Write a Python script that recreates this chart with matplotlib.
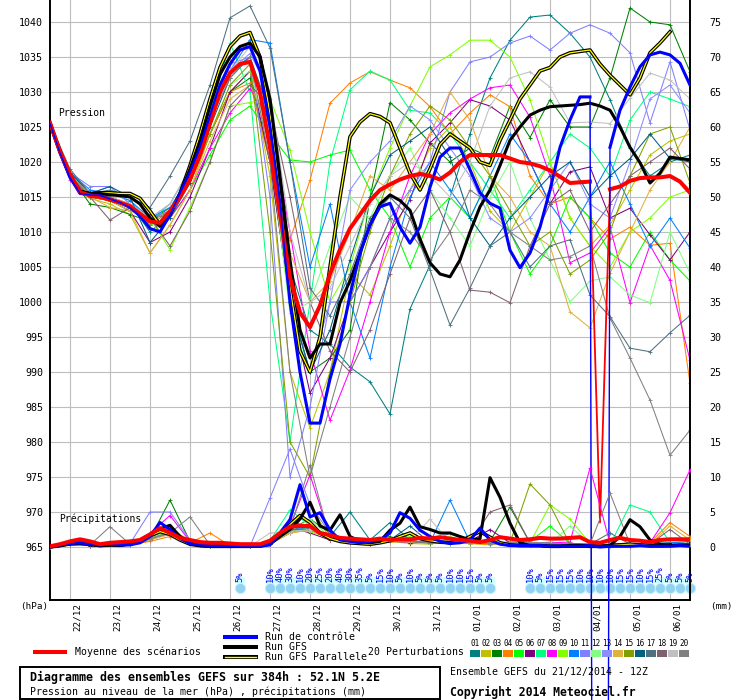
import numpy as np
import matplotlib
matplotlib.use("Agg")
import matplotlib.pyplot as plt
import matplotlib.transforms as mtransforms
from matplotlib.lines import Line2D
from matplotlib.patches import Rectangle

plt.rcParams['font.family'] = ['DejaVu Sans Mono']

# time axis (hours from 21/12 12Z)
hours6 = np.arange(0, 385, 6)
hours12 = np.arange(0, 385, 12)

day_hours = np.arange(12, 373, 24)
day_labels = ['22/12', '23/12', '24/12', '25/12', '26/12', '27/12', '28/12', '29/12',
              '30/12', '31/12', '01/01', '02/01', '03/01', '04/01', '05/01', '06/01']

# ---- pressure (hPa), 6-hourly ----
mean_p = [1025.6, 1021.5, 1018.3, 1015.7, 1015.2, 1015.0, 1014.6, 1014.2, 1013.7, 1012.6,
          1011.5, 1011.3, 1013.0, 1015.0, 1017.5, 1021.0, 1025.5, 1030.0, 1032.7, 1034.0,
          1034.3, 1030.0, 1022.0, 1012.5, 1003.5, 998.5, 996.4, 999.5, 1004.0, 1007.5,
          1010.5, 1012.5, 1014.5, 1016.0, 1016.8, 1017.5, 1018.0, 1018.3, 1018.0, 1017.5,
          1018.5, 1020.0, 1021.0, 1021.0, 1021.0, 1021.0, 1020.5, 1020.0, 1019.8, 1019.4,
          1018.8, 1017.9, 1017.0, 1017.1, 1017.2, 968.5, 1016.1, 1016.5, 1017.3, 1017.7,
          1017.8, 1017.8, 1018.0, 1017.2, 1015.6]
ctrl_p = [1025.5, 1021.3, 1017.8, 1015.5, 1015.3, 1015.2, 1014.7, 1014.2, 1013.5, 1012.3,
          1010.5, 1010.0, 1012.5, 1015.5, 1018.5, 1022.0, 1026.5, 1031.0, 1034.0, 1036.0,
          1036.5, 1033.0, 1025.0, 1014.0, 1000.0, 990.0, 982.7, 982.7, 989.0, 994.0,
          1001.0, 1007.0, 1011.0, 1013.6, 1014.1, 1010.7, 1008.4, 1010.7, 1016.4, 1020.7,
          1022.0, 1022.0, 1018.9, 1015.6, 1014.1, 1013.4, 1007.4, 1004.9, 1007.0, 1010.7,
          1016.0, 1022.1, 1026.0, 1029.3, 1029.3, 520.0, 1022.1, 1027.4, 1030.7, 1033.6,
          1035.3, 1035.7, 1035.3, 1034.1, 1031.0]
gfs_p = [1025.5, 1021.5, 1018.0, 1015.8, 1015.5, 1015.5, 1015.3, 1015.2, 1015.0, 1014.0,
         1012.0, 1010.8, 1012.5, 1015.5, 1019.0, 1023.0, 1028.0, 1032.5, 1035.0, 1036.5,
         1037.0, 1035.0, 1029.0, 1018.0, 1006.0, 996.0, 992.0, 994.0, 994.0, 999.9,
         1003.0, 1007.0, 1011.0, 1014.0, 1015.3, 1014.5, 1013.1, 1009.0, 1005.6, 1004.0,
         1003.6, 1006.0, 1010.0, 1013.6, 1016.0, 1019.5, 1023.1, 1025.0, 1026.7, 1027.4,
         1027.9, 1028.0, 1028.1, 1028.2, 1028.4, 1028.0, 1027.4, 1025.0, 1022.1, 1019.9,
         1017.0, 1018.4, 1020.7, 1020.5, 1020.3]
para_p = [1025.5, 1021.5, 1018.0, 1015.8, 1015.5, 1015.6, 1015.6, 1015.5, 1015.5, 1014.8,
          1013.0, 1011.0, 1012.5, 1015.5, 1019.5, 1024.0, 1029.0, 1033.5, 1036.5, 1038.0,
          1038.5, 1035.0, 1027.0, 1015.0, 1002.0, 993.0, 990.0, 995.0, 1005.0, 1015.0,
          1023.6, 1025.7, 1026.9, 1026.5, 1025.6, 1022.0, 1018.4, 1016.0, 1019.0, 1022.5,
          1024.0, 1023.0, 1022.0, 1020.0, 1019.5, 1023.1, 1026.0, 1029.0, 1031.0, 1033.0,
          1033.5, 1035.0, 1035.6, 1035.8, 1036.0, 1034.0, 1032.4, 1031.0, 1029.6, 1032.0,
          1035.6, 1037.0, 1038.6, np.nan, np.nan]

# ---- precipitation (mm), 6-hourly ----
mean_r = [0.1, 0.4, 0.8, 1.1, 0.8, 0.4, 0.6, 0.7, 0.8, 1.0,
          1.8, 2.7, 2.0, 1.3, 1.0, 0.7, 0.6, 0.6, 0.5, 0.4,
          0.4, 0.4, 0.9, 2.0, 2.9, 3.0, 3.0, 2.0, 1.7, 1.3,
          1.2, 1.1, 1.0, 1.2, 1.0, 1.1, 1.1, 1.3, 1.2, 1.4,
          1.2, 1.0, 0.9, 0.7, 1.0, 1.4, 1.2, 1.0, 1.1, 1.3,
          1.2, 1.2, 1.3, 1.4, 0.7, 0.6, 1.0, 1.3, 1.0, 0.9,
          0.7, 1.0, 1.1, 1.1, 1.1]
ctrl_r = [0.0, 0.3, 0.5, 0.6, 0.4, 0.3, 0.4, 0.3, 0.3, 0.6,
          1.5, 3.5, 2.5, 1.2, 0.5, 0.3, 0.2, 0.2, 0.2, 0.1,
          0.1, 0.1, 0.3, 2.0, 3.9, 8.9, 4.3, 4.9, 2.4, 1.0,
          0.8, 0.6, 0.8, 1.0, 2.0, 4.9, 4.1, 2.4, 1.5, 0.8,
          0.5, 0.6, 1.0, 2.7, 1.0, 0.4, 0.2, 0.2, 0.2, 0.2,
          0.1, 0.1, 0.1, 0.1, 0.2, 0.0, 0.1, 0.1, 0.1, 0.2,
          0.1, 0.1, 0.1, 0.2, 0.1]
gfs_r = [0.0, 0.2, 0.4, 0.5, 0.3, 0.2, 0.3, 0.2, 0.4, 0.8,
         1.8, 2.6, 3.1, 1.5, 0.5, 0.2, 0.1, 0.1, 0.1, 0.1,
         0.1, 0.1, 0.4, 1.5, 2.5, 4.0, 6.4, 3.0, 2.4, 4.6,
         1.5, 0.8, 0.6, 0.8, 2.4, 3.4, 5.7, 2.9, 2.5, 2.0,
         2.0, 1.5, 1.0, 1.2, 9.9, 7.1, 3.4, 0.6, 0.2, 0.2,
         0.1, 0.1, 0.1, 0.1, 0.2, 0.1, 0.2, 1.5, 3.9, 2.9,
         1.0, 0.4, 0.2, 0.3, 0.3]
para_r = [0.0, 0.2, 0.5, 0.7, 0.4, 0.2, 0.3, 0.3, 0.5, 0.9,
          1.6, 2.2, 1.8, 1.0, 0.4, 0.2, 0.1, 0.1, 0.1, 0.1,
          0.1, 0.2, 0.5, 1.8, 3.2, 4.5, 3.5, 2.0, 1.2, 0.8,
          0.6, 0.5, 0.4, 0.6, 0.9, 1.5, 2.0, 1.2, 0.9, 0.7,
          0.6, 0.8, 1.5, 2.2, 1.4, 0.6, 0.3, 0.2, 0.2, 0.2,
          0.1, 0.1, 0.2, 0.2, 0.1, 0.1, 0.2, 0.3, 0.4, 0.3,
          0.2, 0.2, 0.3, np.nan, np.nan]

# ---- 20 perturbations, 12-hourly pressure ----
p01 = [1025.5, 1018.5, 1015.5, 1015.0, 1014.0, 1010.0, 1012.5, 1018.0, 1026.0, 1033.0, 1035.0,
       1027.0, 1005.0, 996.0, 994.0, 990.7, 988.6, 984.0, 999.0, 1005.3, 1015.0, 1024.0,
       1032.0, 1037.4, 1040.7, 1041.0, 1038.4, 1035.0, 1028.9, 1022.0, 1018.0, 1020.0, 1021.0]
p02 = [1025.5, 1018.0, 1014.8, 1014.0, 1012.5, 1007.0, 1011.0, 1016.0, 1024.0, 1030.0, 1033.0,
       1018.0, 990.0, 982.0, 990.0, 1004.0, 1001.0, 1008.0, 1016.0, 1022.0, 1025.0, 1020.0,
       1013.0, 1010.0, 1015.0, 1020.0, 1012.0, 1008.0, 1011.0, 1016.0, 1021.0, 1023.0, 1024.0]
p03 = [1025.5, 1018.0, 1014.0, 1013.5, 1012.5, 1011.5, 1013.5, 1017.0, 1024.0, 1030.0, 1032.0,
       1020.0, 1000.0, 990.0, 992.0, 996.0, 1015.0, 1028.5, 1026.0, 1022.7, 1020.0, 1022.0,
       1020.7, 1028.0, 1023.5, 1028.9, 1025.0, 1025.0, 1032.0, 1042.0, 1040.0, 1039.6, 1032.9]
p04 = [1025.5, 1018.5, 1015.5, 1015.0, 1014.0, 1012.0, 1013.0, 1017.0, 1024.0, 1030.0, 1031.3,
       1020.0, 1008.9, 1017.4, 1028.4, 1031.3, 1032.9, 1031.7, 1030.6, 1027.9, 1024.0, 1027.0,
       1029.6, 1027.9, 1018.0, 1014.0, 1015.0, 1012.0, 1009.0, 1010.7, 1008.1, 1008.4, 988.4]
p05 = [1025.5, 1018.0, 1015.5, 1015.0, 1013.5, 1011.0, 1012.0, 1016.0, 1021.0, 1026.0, 1028.0,
       1024.0, 1020.3, 1020.0, 1021.0, 1021.7, 1016.0, 1012.0, 1005.0, 1012.0, 1015.0, 1012.0,
       1018.0, 1010.0, 1004.0, 1008.0, 1015.0, 1012.0, 1007.0, 1005.0, 1010.0, 1006.0, 1003.0]
p06 = [1025.5, 1018.0, 1015.0, 1014.5, 1013.0, 1008.5, 1010.0, 1015.0, 1022.0, 1030.0, 1033.0,
       1020.0, 1000.0, 987.0, 992.0, 1000.0, 1005.0, 1010.0, 1014.6, 1022.7, 1025.6, 1028.9,
       1028.0, 1026.0, 1020.0, 1014.0, 1018.6, 1019.3, 1012.0, 1013.4, 1009.6, 1006.0, 1010.0]
p07 = [1025.5, 1018.5, 1015.5, 1015.5, 1014.5, 1011.5, 1014.0, 1019.0, 1027.0, 1037.0, 1030.0,
       1000.0, 980.0, 1000.0, 1020.0, 1030.3, 1033.0, 1031.7, 1027.4, 1027.0, 1024.1, 1020.0,
       1016.0, 1012.0, 1016.0, 1020.0, 1024.0, 1022.0, 1018.0, 1026.0, 1030.0, 1029.0, 1027.9]
p08 = [1025.5, 1017.5, 1015.0, 1014.5, 1013.0, 1012.5, 1012.0, 1016.0, 1022.0, 1027.0, 1030.5,
       1026.0, 1010.0, 993.0, 983.1, 990.3, 1000.0, 1010.0, 1018.0, 1024.0, 1027.0, 1029.0,
       1030.6, 1031.0, 1026.4, 1018.0, 1005.6, 1007.0, 1010.7, 999.9, 1008.1, 1003.1, 991.7]
p09 = [1025.5, 1018.0, 1015.0, 1014.5, 1013.0, 1012.0, 1007.5, 1013.5, 1020.0, 1028.0, 1028.5,
       1029.0, 1021.7, 1010.0, 1000.0, 1005.0, 1015.0, 1022.0, 1028.0, 1033.6, 1035.3, 1037.4,
       1037.4, 1035.0, 1028.9, 1020.0, 1012.0, 1008.0, 1005.0, 1010.0, 1012.0, 1015.0, 1016.0]
p10 = [1025.5, 1018.5, 1016.0, 1015.5, 1014.5, 1012.0, 1013.5, 1018.0, 1026.0, 1033.0, 1037.5,
       1037.0, 1020.0, 1005.0, 1014.0, 1000.0, 992.0, 1005.0, 1015.0, 1020.0, 1016.0, 1012.0,
       1018.0, 1024.0, 1020.0, 1014.0, 1010.0, 1015.0, 1020.0, 1014.0, 1008.0, 1012.0, 1007.7]
p11 = [1025.5, 1018.5, 1016.5, 1016.5, 1014.0, 1012.0, 1013.0, 1018.0, 1026.0, 1034.0, 1035.0,
       1015.0, 975.0, 985.0, 1000.0, 1000.0, 1005.0, 1012.0, 1016.0, 1020.0, 1030.0, 1034.3,
       1035.0, 1037.0, 1038.0, 1036.0, 1038.4, 1039.6, 1038.4, 1035.6, 1025.6, 1034.3, 1024.6]
p12 = [1025.5, 1018.0, 1015.0, 1015.0, 1013.5, 1011.5, 1013.0, 1017.0, 1024.0, 1031.0, 1033.0,
       1022.0, 998.4, 1000.0, 1008.0, 1015.0, 1012.0, 1018.0, 1022.0, 1016.0, 1012.0, 1008.0,
       1015.0, 1020.0, 1012.0, 1006.0, 1000.0, 1003.0, 1003.6, 1001.0, 999.9, 1010.0, 1004.1]
p13 = [1025.5, 1018.0, 1015.5, 1016.5, 1014.0, 1012.0, 1014.0, 1019.0, 1027.0, 1033.0, 1035.5,
       1030.0, 1000.0, 990.0, 1000.0, 1016.0, 1020.0, 1023.0, 1028.0, 1026.0, 1022.0, 1018.0,
       1012.0, 1010.0, 1012.0, 1016.0, 1020.0, 1014.0, 1012.0, 1020.0, 1029.0, 1031.0, 1027.0]
p14 = [1025.5, 1018.0, 1015.0, 1013.5, 1013.0, 1007.0, 1011.0, 1016.0, 1023.0, 1029.0, 1031.0,
       1025.0, 1007.0, 1000.0, 1003.0, 1010.0, 1018.0, 1016.0, 1020.0, 1024.0, 1030.0, 1026.0,
       1018.0, 1015.0, 1010.0, 1008.0, 998.6, 996.3, 1004.1, 1010.0, 1016.0, 1020.0, 1025.0]
p15 = [1025.5, 1018.0, 1015.0, 1014.5, 1013.5, 1011.0, 1013.0, 1017.0, 1024.0, 1031.0, 1034.0,
       1010.0, 980.0, 975.0, 990.0, 1000.0, 1010.0, 1018.0, 1024.0, 1028.0, 1026.0, 1022.0,
       1018.0, 1013.0, 1008.0, 1010.0, 1004.0, 1006.0, 1010.0, 1018.0, 1024.0, 1025.0, 1017.0]
p16 = [1025.5, 1018.5, 1015.5, 1016.5, 1015.0, 1008.5, 1012.0, 1017.0, 1025.0, 1032.0, 1035.0,
       1025.0, 1000.0, 990.0, 996.0, 1006.0, 1015.0, 1021.0, 1023.0, 1025.0, 1020.7, 1012.0,
       1008.0, 1012.0, 1015.0, 1018.0, 1020.0, 1015.0, 1018.0, 1020.5, 1024.0, 1020.5, 1020.0]
p17 = [1025.5, 1019.0, 1015.5, 1016.0, 1015.0, 1013.5, 1018.0, 1023.0, 1031.0, 1040.6, 1042.3,
       1036.3, 1020.0, 1002.0, 998.0, 1004.0, 1012.0, 1015.0, 1012.0, 1004.6, 996.7, 1002.0,
       1008.0, 1010.0, 1005.0, 1008.0, 1008.9, 1001.0, 997.9, 993.4, 992.9, 995.6, 998.1]
p18 = [1025.5, 1018.0, 1015.0, 1011.7, 1013.5, 1012.0, 1008.0, 1013.0, 1020.0, 1028.0, 1031.0,
       1028.0, 1015.0, 1000.0, 993.0, 990.0, 996.0, 1004.0, 1012.0, 1016.0, 1010.0, 1001.7,
       1001.4, 999.9, 1008.0, 1014.0, 1016.0, 1010.0, 1014.0, 1018.0, 1020.0, 1022.0, 1019.0]
p19 = [1025.5, 1018.0, 1015.5, 1015.0, 1014.0, 1012.0, 1014.0, 1019.0, 1027.0, 1033.0, 1036.5,
       1030.0, 1010.0, 999.9, 1002.0, 1008.0, 1014.0, 1018.0, 1020.0, 1018.0, 1015.0, 1020.0,
       1028.0, 1032.0, 1032.9, 1030.7, 1025.6, 1025.7, 1025.5, 1029.1, 1032.7, 1031.7, 1029.0]
p20 = [1025.5, 1018.0, 1015.5, 1015.0, 1013.5, 1011.5, 1013.0, 1018.0, 1026.0, 1032.0, 1035.0,
       1020.0, 990.0, 975.0, 985.0, 995.0, 1005.0, 1012.0, 1010.0, 1006.0, 1010.0, 1016.0,
       1014.0, 1010.0, 1008.0, 1006.0, 1006.5, 1008.0, 997.7, 992.0, 986.0, 978.1, 981.7]

# ---- 20 perturbations, 12-hourly precipitation ----
r01 = [0, 0.3, 0.2, 0.5, 0.3, 1.0, 2.2, 0.6, 0.2, 0.1, 0.1, 0.4, 2.0, 3.0, 1.5, 5.0, 1.0,
       3.5, 1.0, 0.5, 0.6, 0.8, 0.4, 0.5, 0.3, 0.6, 0.4, 0.3, 0.2, 0.5, 0.3, 0.4, 0.3]
r02 = [0, 0.5, 0.3, 0.3, 0.5, 1.5, 2.5, 1.0, 0.3, 0.1, 0.1, 0.8, 3.0, 6.0, 1.2, 0.6, 0.4,
       0.8, 0.5, 0.4, 1.0, 0.5, 0.3, 0.8, 0.6, 0.4, 0.5, 0.3, 0.4, 0.3, 0.5, 0.6, 0.5]
r03 = [0, 0.4, 0.3, 0.6, 0.4, 1.2, 6.7, 0.8, 0.2, 0.1, 0.1, 0.6, 2.5, 4.0, 2.0, 0.8, 1.0,
       1.5, 0.6, 0.8, 0.5, 0.7, 0.8, 5.7, 0.6, 0.5, 0.3, 0.4, 0.3, 0.5, 0.4, 0.6, 0.5]
r04 = [0, 0.3, 0.4, 0.3, 0.3, 0.8, 1.5, 0.6, 2.0, 0.2, 0.1, 0.5, 2.0, 2.5, 1.0, 0.6, 0.5,
       0.7, 0.9, 0.6, 0.8, 0.5, 0.4, 0.6, 0.5, 0.7, 0.4, 0.5, 0.3, 0.4, 0.6, 3.5, 1.5]
r05 = [0, 0.4, 0.3, 0.4, 0.5, 1.5, 2.0, 0.9, 0.3, 0.1, 0.1, 0.6, 2.2, 2.8, 1.3, 0.9, 0.6,
       0.8, 0.7, 0.6, 0.7, 0.6, 0.5, 0.7, 0.8, 3.0, 0.5, 0.4, 0.3, 0.3, 0.4, 0.5, 0.4]
r06 = [0, 0.5, 0.2, 0.4, 0.3, 1.0, 2.5, 0.7, 0.2, 0.1, 0.1, 0.4, 2.8, 2.0, 1.0, 0.8, 0.5,
       0.9, 0.6, 0.7, 0.6, 0.8, 2.5, 0.6, 0.5, 0.4, 0.4, 0.3, 0.3, 0.2, 0.3, 0.4, 0.4]
r07 = [0, 0.3, 0.3, 0.5, 0.4, 1.3, 2.8, 0.6, 0.3, 0.1, 0.1, 0.9, 5.3, 3.0, 1.5, 0.8, 0.6,
       1.0, 0.7, 0.5, 0.6, 0.5, 0.6, 0.5, 0.6, 0.5, 0.4, 0.4, 0.3, 6.0, 5.0, 0.6, 0.4]
r08 = [0, 0.6, 0.3, 0.4, 0.4, 2.0, 4.5, 0.8, 0.3, 0.1, 0.1, 0.6, 3.0, 10.3, 1.5, 0.7, 0.5,
       0.8, 0.7, 0.6, 0.8, 1.0, 0.5, 0.6, 0.5, 0.6, 0.7, 11.3, 0.5, 0.4, 0.6, 4.9, 11.0]
r09 = [0, 0.4, 0.3, 0.4, 0.3, 1.1, 2.2, 0.7, 0.2, 0.1, 0.1, 0.5, 2.5, 2.2, 1.2, 0.9, 0.6,
       0.9, 1.5, 0.7, 1.5, 0.6, 0.5, 0.7, 0.6, 6.0, 4.0, 0.5, 0.4, 0.3, 0.4, 0.5, 0.4]
r10 = [0, 0.3, 0.3, 0.4, 0.4, 1.2, 2.0, 0.9, 0.3, 0.1, 0.2, 0.7, 2.7, 2.5, 1.3, 0.8, 0.7,
       1.2, 0.8, 0.6, 6.7, 0.7, 0.6, 0.5, 0.6, 0.5, 0.5, 0.4, 0.3, 0.4, 0.5, 0.6, 0.8]
r11 = [0, 0.8, 0.4, 0.5, 0.5, 5.0, 5.0, 1.0, 0.3, 0.1, 0.1, 7.0, 14.0, 6.0, 2.0, 0.9, 0.7,
       1.0, 0.8, 0.6, 0.7, 0.6, 0.5, 0.6, 0.5, 0.6, 0.4, 0.5, 0.3, 0.4, 0.5, 0.4, 0.4]
r12 = [0, 0.4, 0.3, 0.4, 0.4, 1.3, 2.3, 0.8, 0.3, 0.1, 0.1, 0.6, 2.2, 4.0, 1.4, 0.8, 0.6,
       1.0, 0.8, 0.6, 0.7, 1.5, 0.5, 0.6, 0.6, 0.5, 3.0, 0.4, 0.3, 0.4, 0.4, 0.5, 0.4]
r13 = [0, 0.4, 0.4, 0.3, 0.4, 1.2, 1.8, 0.8, 0.3, 0.1, 0.1, 0.5, 2.4, 2.6, 1.2, 0.8, 0.6,
       0.9, 0.8, 0.6, 2.0, 0.6, 0.5, 0.6, 0.6, 0.5, 0.4, 0.4, 0.3, 0.4, 0.4, 0.5, 0.4]
r14 = [0, 0.3, 0.3, 0.4, 0.3, 1.0, 1.8, 0.6, 0.3, 0.1, 0.1, 0.5, 2.0, 2.4, 1.1, 0.7, 0.5,
       0.8, 0.7, 0.5, 0.6, 0.5, 0.5, 0.6, 0.5, 0.5, 0.4, 0.4, 0.3, 0.4, 0.4, 3.0, 1.0]
r15 = [0, 0.4, 0.3, 0.4, 0.4, 1.2, 2.0, 0.8, 0.3, 0.1, 0.1, 0.6, 2.8, 3.0, 1.2, 0.8, 0.6,
       1.0, 0.8, 0.6, 0.7, 0.6, 0.5, 0.6, 9.0, 6.0, 0.4, 0.4, 0.3, 0.4, 0.4, 0.5, 0.4]
r16 = [0, 0.4, 0.3, 0.5, 0.4, 1.2, 2.0, 0.8, 0.3, 0.1, 0.1, 0.5, 2.5, 2.5, 1.2, 0.8, 0.6,
       1.0, 3.0, 0.6, 0.7, 0.6, 0.5, 0.6, 0.6, 0.5, 0.4, 0.4, 0.3, 0.4, 0.4, 0.5, 0.4]
r17 = [0, 0.4, 0.3, 0.4, 0.4, 1.2, 2.0, 0.8, 0.3, 0.1, 0.1, 0.5, 4.0, 2.5, 1.2, 0.8, 0.6,
       1.0, 0.8, 0.6, 0.7, 0.6, 0.5, 0.6, 0.6, 0.5, 0.4, 0.4, 2.0, 0.4, 0.4, 0.5, 0.4]
r18 = [0, 0.5, 0.3, 0.4, 0.4, 1.5, 2.6, 0.8, 0.3, 0.1, 0.1, 0.5, 2.5, 2.5, 1.2, 0.8, 0.6,
       1.0, 0.8, 0.6, 0.7, 0.6, 5.0, 6.0, 0.6, 0.5, 0.4, 0.4, 0.3, 0.4, 0.4, 2.5, 0.4]
r19 = [0, 0.4, 0.3, 0.4, 0.4, 1.2, 2.0, 0.8, 0.3, 0.1, 0.1, 2.0, 2.2, 2.5, 1.2, 0.8, 0.6,
       1.0, 0.8, 4.0, 0.7, 0.6, 0.5, 0.6, 0.6, 0.5, 0.4, 0.4, 0.3, 0.4, 0.4, 0.5, 0.4]
r20 = [0, 0.4, 0.3, 2.9, 0.4, 1.2, 2.0, 4.3, 0.3, 0.1, 0.1, 0.5, 2.5, 11.7, 1.2, 0.8, 0.6,
       1.0, 0.8, 0.6, 0.7, 0.6, 0.5, 0.6, 0.6, 0.5, 0.4, 0.4, 7.7, 0.4, 0.4, 0.5, 0.4]

pert_p = [p01, p02, p03, p04, p05, p06, p07, p08, p09, p10,
          p11, p12, p13, p14, p15, p16, p17, p18, p19, p20]
pert_r = [r01, r02, r03, r04, r05, r06, r07, r08, r09, r10,
          r11, r12, r13, r14, r15, r16, r17, r18, r19, r20]
pert_colors = ['#008080', '#c0c000', '#008000', '#ff8000', '#00ff00', '#800080', '#00ff80',
               '#ff00ff', '#80ff00', '#0080ff', '#8080ff', '#80ff80', '#8c8cff', '#e0b040',
               '#80a000', '#006080', '#507080', '#806070', '#c0c0c0', '#808080']

# snow probability (%)
snow_hours = [114] + list(range(132, 265, 6)) + list(range(288, 385, 6))
snow_pct = [5,
            10, 40, 30, 10, 20, 25, 20, 40, 30, 35, 5, 15, 10, 5, 10, 5, 5, 5, 10, 10, 15, 5, 5,
            10, 5, 15, 15, 15, 10, 10, 10, 10, 15, 15, 10, 15, 25, 5, 5, 5]

W, H = 740, 700
def fx(x):
    return x / W
def fy(y):
    return 1 - y / H

fig = plt.figure(figsize=(7.4, 7.0), dpi=100)
fig.patch.set_facecolor('white')
ax = fig.add_axes([fx(50), fy(600), 640 / W, 600 / H])
ax.set_xlim(0, 384)
ax.set_ylim(1040 - 578 / 7, 1040 + 22 / 7)
ax.set_yticks(np.arange(965, 1041, 5))
ax.set_xticks(day_hours)
ax.set_xticklabels([])
ax.grid(True, color='#bdbdbd', lw=0.8)
ax.tick_params(axis='both', length=0, labelsize=7.2)
ax.tick_params(axis='y', pad=5)
for s in ['left', 'bottom', 'right']:
    ax.spines[s].set_linewidth(1.4)
ax.spines['top'].set_visible(False)

ax2 = ax.twinx()
lo, hi = ax.get_ylim()
ax2.set_ylim(lo - 965, hi - 965)
ax2.set_yticks(np.arange(0, 76, 5))
ax2.tick_params(axis='y', length=0, labelsize=7.2, pad=14)
for s in ax2.spines.values():
    s.set_visible(False)

# pressure
for p, c in zip(pert_p, pert_colors):
    ax.plot(hours12, p, color=c, lw=0.75, marker='+', ms=3, mew=0.6, zorder=2)
ax.plot(hours6, para_p, color='black', lw=2.6, zorder=3)
ax.plot(hours6, para_p, color='yellow', lw=0.9, zorder=3.05)
ax.plot(hours6, gfs_p, color='black', lw=2.2, zorder=3.1)
ctrl_arr = np.array(ctrl_p)
ax.plot(hours6, np.where(ctrl_arr < 900, np.nan, ctrl_arr), color='blue', lw=2.2, zorder=3.2)
# thin full control run, unclipped: its missing-value spike runs off the bottom of
# the picture as in the original
ax.plot(hours6, ctrl_arr, color='blue', lw=1.0, zorder=6, clip_on=False)
mean_arr = np.array(mean_p)
ax.plot(hours6, mean_arr, color='red', lw=1.3, zorder=4)
ax.plot(hours6, np.where(mean_arr < 980, np.nan, mean_arr), color='red', lw=2.9, zorder=4)

# precipitation
for r, c in zip(pert_r, pert_colors):
    ax2.plot(hours12, r, color=c, lw=0.75, marker='+', ms=3, mew=0.6, zorder=2)
ax2.plot(hours6, para_r, color='black', lw=2.6, zorder=3)
ax2.plot(hours6, para_r, color='yellow', lw=0.9, zorder=3.05)
ax2.plot(hours6, gfs_r, color='black', lw=2.2, zorder=3.1)
ax2.plot(hours6, ctrl_r, color='blue', lw=2.2, zorder=3.2)
ax2.plot(hours6, mean_r, color='red', lw=2.9, zorder=4)

ax.text(5, 1027, 'Pression', fontsize=7, va='center')
ax.text(5.4, 969.1, 'Précipitations', fontsize=7, va='center')

# snow row
ax.bar(snow_hours, 0.86, bottom=959.86, width=6, color='#ccffff', zorder=1.5)
ax.scatter(snow_hours, [959.14] * len(snow_hours), s=55, facecolor='#8fd2f2',
           edgecolor='#c8f0ff', lw=0.8, zorder=2.5, clip_on=False)
for t, v in zip(snow_hours, snow_pct):
    ax.text(t, 960.0, f'{v}%', rotation=90, ha='center', va='bottom',
            color='blue', fontsize=6.3, zorder=5)

# date labels
trans = mtransforms.blended_transform_factory(ax.transData, ax.transAxes)
for t, lab in zip(day_hours, day_labels):
    ax.text(t + 1.8, -0.004, lab, transform=trans, rotation=90, ha='left', va='top',
            fontsize=6.7)

fig.text(fx(20), fy(607), '(hPa)', fontsize=6.7, va='center')
fig.text(fx(710), fy(607), '(mm)', fontsize=6.7, va='center')

# legend
fig.add_artist(Line2D([fx(35), fx(65)], [fy(652)] * 2, color='red', lw=2.9))
fig.text(fx(75), fy(652), 'Moyenne des scénarios', fontsize=7.1, va='center')
fig.add_artist(Line2D([fx(225), fx(256)], [fy(637)] * 2, color='blue', lw=2.9))
fig.text(fx(265), fy(637), 'Run de contrôle', fontsize=7.1, va='center')
fig.add_artist(Line2D([fx(225), fx(256)], [fy(647)] * 2, color='black', lw=2.9))
fig.text(fx(265), fy(647), 'Run GFS', fontsize=7.1, va='center')
fig.add_artist(Line2D([fx(225), fx(256)], [fy(657)] * 2, color='black', lw=2.9))
fig.add_artist(Line2D([fx(225), fx(256)], [fy(657)] * 2, color='yellow', lw=1.0))
fig.text(fx(265), fy(657), 'Run GFS Parallele', fontsize=7.1, va='center')
fig.text(fx(368), fy(652), '20 Perturbations', fontsize=7.1, va='center')
for k, c in enumerate(pert_colors):
    x0 = 470 + 11 * k
    fig.add_artist(Rectangle((fx(x0), fy(657)), 10 / W, 7 / H, transform=fig.transFigure,
                             facecolor=c, edgecolor='none'))
    fig.text(fx(x0 + 5), fy(644), f'{k + 1:02d}', fontsize=5.5, ha='center', va='center')

# title box
fig.add_artist(Rectangle((fx(20), fy(699)), 420 / W, 32 / H, transform=fig.transFigure,
                         fill=False, edgecolor='black', lw=1.4))
fig.text(fx(30), fy(677), 'Diagramme des ensembles GEFS sur 384h : 52.1N 5.2E',
         fontsize=8.4, fontweight='bold', va='center')
fig.text(fx(30), fy(692), 'Pression au niveau de la mer (hPa) , précipitations (mm)',
         fontsize=7.1, va='center')
fig.text(fx(450), fy(672), 'Ensemble GEFS du 21/12/2014 - 12Z', fontsize=7.1, va='center')
fig.text(fx(450), fy(692), 'Copyright 2014 Meteociel.fr', fontsize=8.3,
         fontweight='bold', va='center')

fig.savefig('out.png', dpi=100)
